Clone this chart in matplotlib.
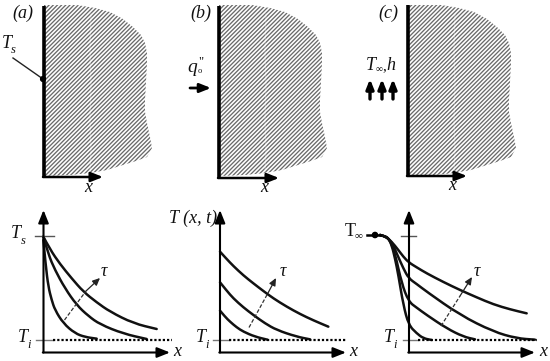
import matplotlib
matplotlib.use('Agg')
import matplotlib.pyplot as plt
from matplotlib.patches import Polygon, PathPatch, Circle
from matplotlib.path import Path

plt.rcParams['font.family'] = ['Liberation Serif', 'DejaVu Serif']
plt.rcParams['hatch.linewidth'] = 0.95

# shape outline, pixels of the picture, panel (a)
body_x = [44, 60, 77, 95, 110, 123, 133, 141, 145, 147, 147, 146, 145, 145, 147, 150, 152, 147, 136, 123, 107, 90, 70, 45]
body_y = [5, 5, 5, 8, 12, 19, 27, 35, 43, 53, 63, 82, 100, 112, 123, 137, 148, 157, 161, 165, 170, 173, 175, 176]
body_shift = [0, 175, 364]
seam_x = [91, 90, 91, 90, 91, 90]
seam_y = [14, 50, 85, 120, 150, 172]

# curves below are read in 3x crops starting at y=190
crop_a = 0
crop_b = 180
crop_c = 360

a1_x = [130, 137, 145, 155, 165, 190, 225, 255, 290]
a1_y = [150, 225, 290, 330, 360, 400, 430, 441, 446]
a2_x = [130, 145, 165, 195, 230, 265, 300, 370, 440]
a2_y = [140, 193, 240, 295, 345, 378, 403, 431, 447]
a3_x = [130, 150, 180, 215, 250, 290, 330, 400, 470]
a3_y = [140, 178, 222, 265, 305, 337, 365, 400, 417]

b1_x = [120, 135, 150, 170, 190, 225, 262]
b1_y = [362, 380, 395, 412, 425, 440, 449]
b2_x = [120, 140, 160, 190, 220, 255, 290, 350, 390]
b2_y = [277, 302, 325, 352, 375, 400, 420, 440, 448]
b3_x = [120, 140, 160, 190, 220, 250, 280, 320, 360, 400, 445]
b3_y = [185, 207, 228, 256, 280, 303, 325, 350, 372, 391, 410]

c0_x = [60, 75, 85, 95, 105, 115, 130, 146, 170, 190, 215]
c0_y = [135, 138, 145, 165, 205, 255, 345, 405, 430, 445, 450]
c1_x = [60, 75, 90, 105, 125, 146, 170, 200, 260, 310, 345]
c1_y = [135, 138, 150, 190, 280, 335, 353, 375, 415, 440, 448]
c2_x = [60, 75, 95, 110, 130, 146, 170, 200, 300, 400, 470, 525]
c2_y = [135, 138, 155, 190, 235, 265, 282, 305, 375, 425, 445, 449]
c3_x = [60, 75, 95, 115, 130, 146, 170, 200, 250, 300, 350, 400, 450, 500]
c3_y = [135, 138, 155, 180, 200, 217, 232, 250, 276, 300, 322, 343, 358, 370]

fig = plt.figure(figsize=(5.5, 3.61), dpi=100)
ax = fig.add_axes([0, 0, 1, 1])
ax.set_xlim(0, 550)
ax.set_ylim(361, 0)
ax.axis('off')


def arrow(x0, y0, x1, y1, lw=2.0, size=13, color='black', head=0.22):
    style = '-|>,head_length=0.55,head_width=%s' % head
    ax.annotate('', xy=(x1, y1), xytext=(x0, y0),
                arrowprops=dict(arrowstyle=style, lw=lw, color=color,
                                mutation_scale=size, shrinkA=0, shrinkB=0))


def curve(xs, ys, crop, lw=1.8):
    # quadratic pieces through the midpoints, so the read points stay smooth
    px = [crop + x / 3 for x in xs]
    py = [190 + y / 3 for y in ys]
    verts = [(px[0], py[0])]
    codes = [Path.MOVETO]
    for i in range(1, len(px) - 1):
        verts += [(px[i], py[i]), ((px[i] + px[i + 1]) / 2, (py[i] + py[i + 1]) / 2)]
        codes += [Path.CURVE3, Path.CURVE3]
    verts.append((px[-1], py[-1]))
    codes.append(Path.LINETO)
    ax.add_patch(PathPatch(Path(verts, codes), fill=False, lw=lw, ec='#111111', capstyle='round'))


def label(x, y, s, size=13, style='italic', **kw):
    ax.text(x, y, s, fontsize=size, style=style, ha='center', va='center', color='#111111', **kw)


# top row: hatched bodies
for shift in body_shift:
    pts = [(x + shift, y) for x, y in zip(body_x, body_y)]
    ax.add_patch(Polygon(pts, closed=True, facecolor='white', edgecolor='#6a6a6a', hatch='////////', lw=0))
    ax.plot([x + shift for x in seam_x], seam_y, color='white', lw=0.9, alpha=0.3)

for wall, top, bottom, end in [(44, 6, 177, 103), (219, 6, 178, 279), (408, 5, 176, 467)]:
    ax.plot([wall, wall], [top, bottom], color='black', lw=2.6, solid_capstyle='butt')
    arrow(wall - 1, bottom, end, bottom, lw=1.8, size=13)

label(23, 13, '(a)', 13)
label(201, 13, '(b)', 13)
label(388, 13, '(c)', 13)
label(88, 188, 'x', 13)
label(264, 188, 'x', 13)
label(452, 186, 'x', 13)

# surface point of (a)
label(7, 43, 'T', 13)
label(13.5, 50, 's', 9)
ax.plot([13, 43], [58, 79], color='#222222', lw=1.0)
ax.add_patch(Circle((43, 79), 2.4, color='black', zorder=4))

# flux of (b)
label(192, 67, 'q', 14)
label(200, 71, 'o', 6, style='normal')
label(201, 62, '"', 9, style='normal')
arrow(190, 88, 211, 88, lw=2.0, size=12)

# convection of (c)
label(371, 66, 'T', 13)
label(379, 69.5, '∞', 7, style='normal')
label(384, 67, ',', 11, style='normal')
label(391, 66, 'h', 13)
for xa in [370, 382, 393]:
    arrow(xa, 99, xa, 79, lw=2.4, size=10)

# bottom row axes
for x0, xend in [(43.5, 170), (220, 346), (409, 535)]:
    arrow(x0, 352.5, x0, 210, lw=1.5, size=14)
    arrow(x0 - 0.7, 352.5, xend, 352.5, lw=1.5, size=14)

# tick marks and initial temperature
ax.plot([35, 54], [236, 236], color='#555555', lw=1.0)
ax.plot([401, 416], [236, 236], color='#555555', lw=1.0)
ax.plot([36, 53], [340, 340], color='#777777', lw=1.0)
ax.plot([213, 229], [340, 340], color='#777777', lw=1.0)
ax.plot([403, 418], [340, 340], color='#777777', lw=1.0)
for x0, x1 in [(53, 172), (229, 347), (418, 537)]:
    ax.plot([x0, x1], [340, 340], color='black', lw=1.6, dashes=(1.0, 0.9))

for xs, ys in [(a1_x, a1_y), (a2_x, a2_y), (a3_x, a3_y)]:
    curve(xs, ys, crop_a)
for xs, ys in [(b1_x, b1_y), (b2_x, b2_y), (b3_x, b3_y)]:
    curve(xs, ys, crop_b)
for xs, ys in [(c0_x, c0_y), (c1_x, c1_y), (c2_x, c2_y), (c3_x, c3_y)]:
    curve(xs, ys, crop_c)

# T_inf stub and dot
ax.plot([367, 380], [235, 235], color='black', lw=1.8)
ax.add_patch(Circle((375, 235), 2.6, color='black', zorder=4))

# time arrows
ax.plot([64.5, 86], [320, 291], color='#333333', lw=0.9, ls=(0, (3, 1.5)))
arrow(86, 291, 100, 278, lw=0.9, size=8, color='#222222', head=0.25)
ax.plot([249, 268], [327.5, 293], color='#333333', lw=0.9, ls=(0, (3, 1.5)))
arrow(268, 293, 276, 278, lw=0.9, size=8, color='#222222', head=0.25)
ax.plot([441, 460], [326, 296], color='#333333', lw=0.9, ls=(0, (3, 1.5)))
arrow(460, 296, 472, 277, lw=0.9, size=8, color='#222222', head=0.25)
label(104, 272, 'τ', 13)
label(283, 272, 'τ', 13)
label(477, 272, 'τ', 13)

# bottom labels
label(16, 233, 'T', 13)
label(23, 241, 's', 9)
label(23, 338, 'T', 13)
label(29, 345, 'i', 9)
label(177, 352, 'x', 13)
label(193, 218, 'T (x, t)', 13)
label(201, 338, 'T', 13)
label(207, 345, 'i', 9)
label(353, 352, 'x', 13)
label(350, 232, 'T', 13, style='normal')
label(359, 236, '∞', 8, style='normal')
label(389, 338, 'T', 13)
label(395, 345, 'i', 9)
label(543, 352, 'x', 13)

fig.savefig('out.png', dpi=100)
